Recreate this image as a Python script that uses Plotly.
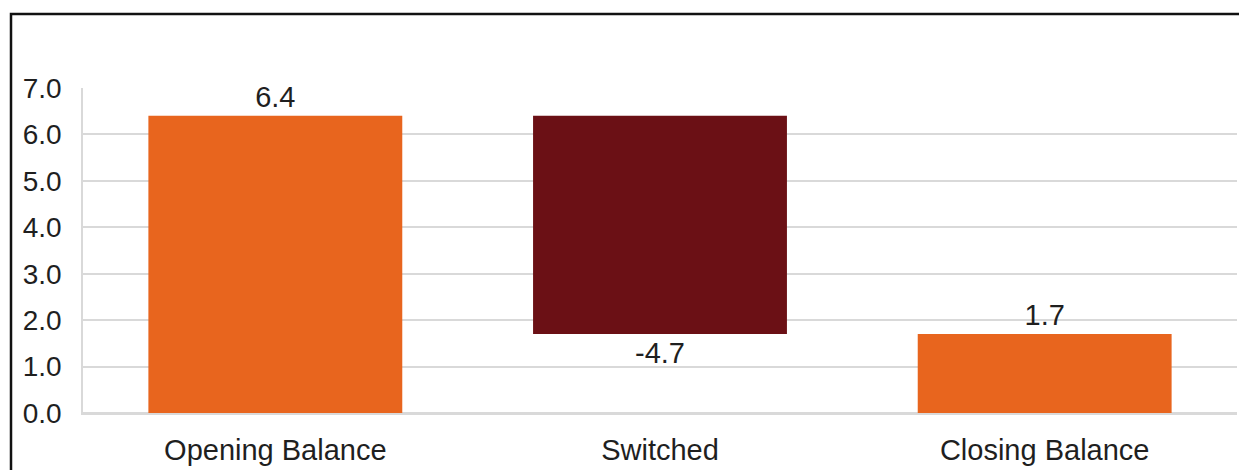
import plotly.graph_objects as go

categories = ["Opening Balance", "Switched", "Closing Balance"]
opening = 6.4
switched = -4.7
closing = round(opening + switched, 1)
values = [opening, switched, closing]
measures = ["absolute", "relative", "total"]
labels = [f"{v:.1f}" for v in values]
y_ticks = [0, 1, 2, 3, 4, 5, 6, 7]
y_tick_text = [f"{t:.1f}" for t in y_ticks]

ORANGE = "#E8651E"
DARKRED = "#6B1015"
GRID = "#D9D9D9"
TEXT = "#1F1F1F"
FONT = "Liberation Sans, Arial, sans-serif"

fig = go.Figure(go.Waterfall(
    x=categories,
    y=values,
    measure=measures,
    text=labels,
    textposition="outside",
    textfont=dict(size=29, color=TEXT, family=FONT),
    increasing=dict(marker=dict(color=ORANGE)),
    decreasing=dict(marker=dict(color=DARKRED)),
    totals=dict(marker=dict(color=ORANGE)),
    connector=dict(visible=False),
    cliponaxis=False,
    hoverinfo="skip",
))

W, H = 1239, 470
ml, mr, mt, mb = 83, 2, 88, 57
pw, ph = W - ml - mr, H - mt - mb

def px_to_paper_x(px):
    return (px - ml) / pw

def px_to_paper_y(py):
    return (H - mb - py) / ph

# outer frame (left and top edges)
fig.add_shape(
    type="path",
    xref="paper", yref="paper",
    path=f"M {px_to_paper_x(11)} {px_to_paper_y(480)} L {px_to_paper_x(11)} {px_to_paper_y(14)} L {px_to_paper_x(1250)} {px_to_paper_y(14)}",
    line=dict(color="#111111", width=2.5),
    layer="above",
)

fig.update_layout(
    width=W, height=H,
    margin=dict(l=ml, r=mr, t=mt, b=mb, autoexpand=False),
    paper_bgcolor="white",
    plot_bgcolor="white",
    showlegend=False,
    waterfallgap=0.34,
    font=dict(family=FONT, color=TEXT, size=28),
)
fig.update_yaxes(
    range=[0, 7],
    tickvals=y_ticks,
    ticktext=y_tick_text,
    showgrid=True, gridcolor=GRID, gridwidth=1.5,
    zeroline=True, zerolinecolor=GRID, zerolinewidth=1.5,
    showline=True, linecolor=GRID, linewidth=1.5,
    ticks="", ticklabelstandoff=14,
    tickfont=dict(size=28, color=TEXT, family=FONT),
    fixedrange=True,
)
fig.update_xaxes(
    showgrid=False, showline=True, linecolor=GRID, linewidth=1.5,
    ticks="", ticklabelstandoff=10,
    tickfont=dict(size=29, color=TEXT, family=FONT),
    fixedrange=True,
)

fig.write_html("out.html", config={"displayModeBar": False})
